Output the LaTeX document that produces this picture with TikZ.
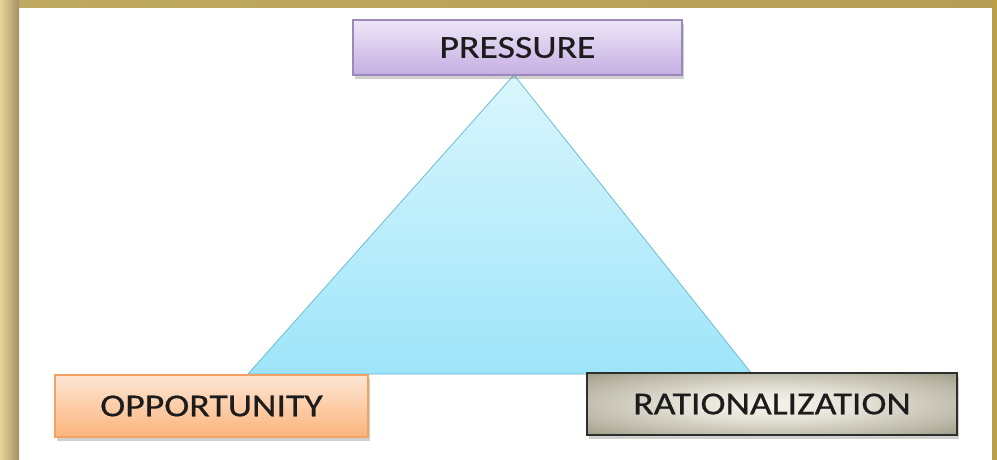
\documentclass[tikz,border=0pt]{standalone}
\usepackage{fontspec}
\setmainfont{Carlito}[FakeStretch=1.18,FakeBold=0.6]
\usetikzlibrary{shadows}
\definecolor{goldL}{HTML}{E6D698}
\definecolor{goldD}{HTML}{A39066}
\definecolor{goldT}{HTML}{B59E55}
\definecolor{goldR}{HTML}{C2A433}
\definecolor{pTop}{HTML}{EEE6F8}
\definecolor{pBot}{HTML}{C4AEE2}
\definecolor{pBord}{HTML}{9C88BA}
\definecolor{oTop}{HTML}{FDE6D4}
\definecolor{oBot}{HTML}{FBB47C}
\definecolor{oBord}{HTML}{F2A263}
\definecolor{rIn}{HTML}{F6F4EA}
\definecolor{rOut}{HTML}{88846F}
\definecolor{rBord}{HTML}{2E2E2A}
\definecolor{tTop}{HTML}{DAF6FC}
\definecolor{tBot}{HTML}{9EE5FA}
\definecolor{tBord}{HTML}{6CBCD2}
\definecolor{txt}{HTML}{1C1C1C}
\pgfdeclareradialshading{ratshade}{\pgfpoint{0bp}{0bp}}{%
  color(0bp)=(rIn); color(12bp)=(rIn!85!rOut); color(28bp)=(rIn!45!rOut);
  color(42bp)=(rOut); color(50bp)=(rOut)}
\tikzset{
  box/.style={rectangle, inner sep=0pt, font=\fontsize{32}{36}\selectfont, text=txt,
    drop shadow={shadow xshift=2pt, shadow yshift=-4pt, opacity=0.3, fill=black!60}},
  pbox/.style={box, draw=pBord, line width=1.2pt, top color=pTop, bottom color=pBot},
  obox/.style={box, draw=oBord, line width=1.2pt, top color=oTop, bottom color=oBot},
  rbox/.style={box, draw=rBord, line width=1.6pt, shading=ratshade},
  tri/.style={draw=tBord, line width=0.8pt, top color=tTop, bottom color=tBot}
}
\begin{document}
\begin{tikzpicture}[x=1pt,y=-1pt]
\useasboundingbox (0,0) rectangle (997,459);
\fill[white] (0,0) rectangle (997,459);
% frame
\shade[left color=goldL, right color=goldD] (0,0) rectangle (19,459);
\shade[left color=goldT!80!goldL, right color=goldT] (19,0) rectangle (997,7);
\shade[left color=goldT, right color=goldR] (992,0) rectangle (997,459);
% triangle
\coordinate (apex) at (514,75);
\coordinate (bl) at (248,374);
\coordinate (br) at (752,374);
\path[tri] (apex) -- (br) -- (bl) -- cycle;
% nodes
\node[pbox, minimum width=329pt, minimum height=55pt] (pressure) at (517.5,47.5) {PRESSURE};
\node[obox, minimum width=313pt, minimum height=62pt] (opp) at (211.5,406) {OPPORTUNITY};
\node[rbox, minimum width=370pt, minimum height=62pt] (rat) at (772,404) {RATIONALIZATION};
\end{tikzpicture}
\end{document}
